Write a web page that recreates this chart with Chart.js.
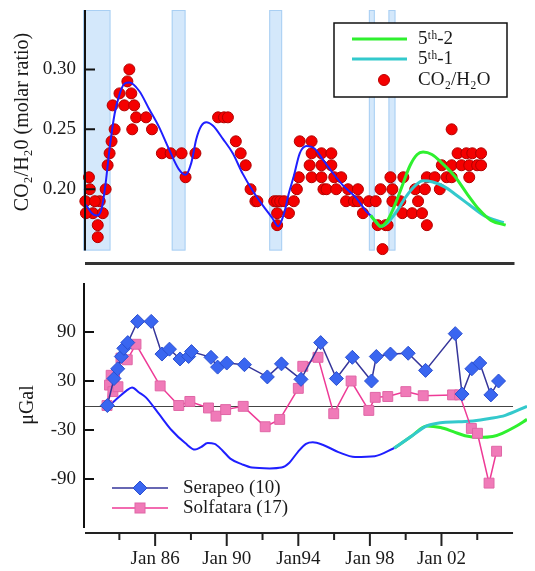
<!DOCTYPE html>
<html lang="en">
<head>
<meta charset="UTF-8">
<title>CO2/H2O ratio and gravity changes</title>
<script src="https://cdn.jsdelivr.net/npm/chart.js@4.4.1/dist/chart.umd.min.js"></script>
<style>
  body { margin: 0; background: #fff; }
  .wrap { position: relative; width: 535px; height: 571px; }
  #topChart { position: absolute; left: 0; top: 0; width: 535px; height: 270px; }
  #bottomChart { position: absolute; left: 0; top: 270px; width: 535px; height: 301px; }
</style>
</head>
<body>
<div class="wrap">
  <canvas id="topChart" width="535" height="270"></canvas>
  <canvas id="bottomChart" width="535" height="301"></canvas>
</div>
<script>
// ---- data (decimal years) ----
const bandStarts = [1981.97, 1986.91, 1992.34, 1997.89, 1998.98];
const bandEnds   = [1983.50, 1987.68, 1993.06, 1998.22, 1999.37];

const co2Dates = [
  1982.30, 1982.35, 1982.10, 1982.90, 1982.52, 1983.07, 1982.13, 1982.79, 1982.79, 1982.63,
  1983.23, 1983.34, 1983.45, 1983.56, 1983.73, 1983.62, 1984.00, 1984.27, 1984.55, 1984.44,
  1984.66, 1984.71, 1984.82, 1984.93, 1985.48, 1985.81, 1986.36, 1986.85, 1987.46, 1988.23, 1987.68,
  1989.49, 1989.82, 1990.04, 1990.48, 1990.75, 1991.03, 1991.30, 1991.57, 1991.68,
  1992.62, 1992.78, 1992.95, 1992.78, 1993.44, 1992.78, 1993.17, 1993.71, 1993.88, 1993.99,
  1994.04, 1994.70, 1994.70, 1995.25, 1994.59, 1995.25, 1994.70, 1995.25, 1995.36, 1995.80,
  1995.80, 1995.96, 1996.35, 1995.53, 1996.07, 1996.73, 1997.28, 1996.62, 1997.06, 1997.28,
  1997.56, 1997.89,
  1998.38, 1998.82, 1998.93, 1998.65, 1998.54, 1998.27, 1999.09, 1999.20, 1999.20, 1999.81,
  1999.64, 1999.75, 2000.30, 2000.63, 2000.85, 2000.47, 2001.01, 2001.12, 2001.56, 2001.12,
  2001.84, 2002.22, 2001.95, 2002.50, 2002.50, 2002.83, 2003.32, 2003.65, 2004.14, 2003.05,
  2003.48, 2003.92, 2004.14, 2002.50, 2003.48
];
const co2Ratio = [
  0.21, 0.20, 0.19, 0.19, 0.18, 0.18, 0.18, 0.17, 0.16, 0.19,
  0.20, 0.22, 0.23, 0.24, 0.25, 0.27, 0.28, 0.27, 0.30, 0.29,
  0.28, 0.25, 0.27, 0.26, 0.26, 0.25, 0.23, 0.23, 0.23, 0.23, 0.21,
  0.26, 0.26, 0.26, 0.24, 0.23, 0.22, 0.20, 0.19, 0.19,
  0.19, 0.19, 0.19, 0.18, 0.18, 0.17, 0.19, 0.19, 0.20, 0.21,
  0.24, 0.24, 0.23, 0.23, 0.22, 0.22, 0.21, 0.21, 0.20, 0.23,
  0.22, 0.21, 0.21, 0.20, 0.20, 0.20, 0.20, 0.19, 0.19, 0.19,
  0.18, 0.19,
  0.17, 0.17, 0.17, 0.15, 0.20, 0.19, 0.21, 0.20, 0.19, 0.21,
  0.19, 0.18, 0.18, 0.19, 0.18, 0.20, 0.20, 0.21, 0.21, 0.17,
  0.20, 0.21, 0.22, 0.22, 0.25, 0.23, 0.23, 0.23, 0.23, 0.22,
  0.22, 0.22, 0.22, 0.21, 0.21
];

// fitted ratio curve (blue) and the two predictions
const fitDates = [
  1982.13, 1982.46, 1982.74, 1983.01, 1983.23, 1983.45, 1983.73, 1984.00, 1984.27, 1984.55,
  1985.10, 1985.65, 1986.20, 1986.74, 1987.29, 1987.68, 1988.00, 1988.28, 1988.56, 1988.83,
  1989.21, 1989.76, 1990.31, 1990.86, 1991.41, 1991.96, 1992.51, 1992.84, 1993.17, 1993.44,
  1993.71, 1994.04, 1994.42, 1994.86, 1995.36, 1995.91, 1996.46, 1997.17, 1997.72, 1997.99
];
const fitRatio = [
  0.187, 0.180, 0.178, 0.184, 0.205, 0.234, 0.263, 0.279, 0.288, 0.289,
  0.282, 0.267, 0.252, 0.234, 0.217, 0.212, 0.222, 0.242, 0.253, 0.256,
  0.253, 0.242, 0.230, 0.213, 0.199, 0.187, 0.176, 0.169, 0.180, 0.197,
  0.211, 0.230, 0.236, 0.234, 0.224, 0.213, 0.203, 0.193, 0.182, 0.178
];
const fifth2Dates = [1997.99, 1998.27, 1998.54, 1998.93, 1999.37, 1999.75, 2000.19, 2000.58, 2000.91, 2001.40, 2001.95, 2002.66, 2003.32, 2004.03, 2004.69, 2005.51];
const fifth2Ratio = [0.178, 0.173, 0.169, 0.174, 0.188, 0.203, 0.220, 0.229, 0.231, 0.229, 0.222, 0.211, 0.197, 0.183, 0.174, 0.170];
const fifth1Dates = [1997.99, 1998.27, 1998.54, 1998.93, 1999.37, 1999.92, 2000.47, 2000.91, 2001.45, 2002.11, 2002.77, 2003.48, 2004.31, 2005.40];
const fifth1Ratio = [0.178, 0.173, 0.169, 0.172, 0.180, 0.193, 0.203, 0.207, 0.206, 0.202, 0.195, 0.187, 0.178, 0.172];

// gravity (microGal)
const serapeoDates = [
  1983.33, 1983.70, 1983.91, 1984.11, 1984.25, 1984.47, 1985.02, 1985.78, 1986.38, 1986.80,
  1987.39, 1987.87, 1988.03, 1989.12, 1989.49, 1990.00, 1990.99, 1992.27, 1993.06, 1994.15,
  1995.25, 1996.13, 1997.02, 1998.09, 1998.36, 1999.15, 2000.14, 2001.11, 2002.77, 2003.15,
  2003.70, 2004.14, 2004.76, 2005.19
];
const serapeoGal = [
  0, 33, 45, 60, 70, 77, 103, 103, 63, 69,
  57, 60, 66, 59, 47, 52, 50, 35, 51, 32,
  77, 33, 59, 30, 60, 63, 64, 43, 88, 14,
  45, 52, 13, 30
];
const solfataraDates = [
  1983.31, 1983.45, 1983.54, 1983.64, 1983.92, 1984.09, 1984.44, 1984.93, 1986.28, 1987.32,
  1987.94, 1988.98, 1989.40, 1989.94, 1990.92, 1992.15, 1992.96, 1994.00, 1994.25, 1995.10,
  1995.98, 1996.95, 1997.94, 1998.30, 1999.00, 2000.01, 2000.98, 2002.62, 2003.02, 2003.67,
  2004.01, 2004.66, 2005.08
];
const solfataraGal = [
  0, 25, 37, 17, 23, 58, 56, 75, 24, 0,
  5, -3, -13, -5, -1, -26, -17, 21, 48, 59,
  -10, 30, -6, 10, 11, 17, 12, 13, 13, -28,
  -34, -95, -56
];
const modelDates = [
  1983.45, 1984.00, 1984.38, 1984.71, 1985.10, 1985.48, 1986.20, 1986.91, 1987.68, 1988.23,
  1988.56, 1988.94, 1989.32, 1989.76, 1990.20, 1990.86, 1991.41, 1992.40, 1993.06, 1993.50,
  1993.97, 1994.43, 1994.81, 1995.36, 1996.24, 1997.17, 1998.27, 1999.37
];
const modelGal = [
  0, 11, 18, 22, 16, 10, -10, -30, -46, -54,
  -51, -46, -47, -55, -65, -72, -76, -77, -76, -70,
  -57, -47, -45, -48, -57, -63, -62, -52
];
const fifth1GalDates = [1999.37, 2000.30, 2001.18, 2001.95, 2002.94, 2003.76, 2004.69, 2005.57, 2006.78];
const fifth1Gal = [-52, -38, -25, -21, -20, -19, -16, -12, -1];
const fifth2GalDates = [1999.37, 2000.30, 2001.18, 2001.95, 2002.66, 2003.32, 2004.14, 2004.86, 2005.40, 2006.12, 2006.78];
const fifth2Gal = [-52, -38, -25, -27, -32, -37, -39, -38, -34, -26, -17];

// axes
const tickYears  = [1984, 1986, 1988, 1990, 1992, 1994, 1996, 1998, 2000, 2002, 2004];
const labelYears = [1986, 1990, 1994, 1998, 2002];
const labelTexts = ['Jan 86', 'Jan 90', 'Jan94', 'Jan 98', 'Jan 02'];
const ratioTicks = [0.20, 0.25, 0.30];
const galTicks   = [-90, -30, 30, 90];

const X_MIN = 1982.08, X_MAX = 2006.78, X_AXIS_END = 2006.0;
const FONT = '"Liberation Serif", "Times New Roman", serif';

Chart.defaults.font.family = FONT;
Chart.defaults.color = '#1a1a1a';

const xy = (xs, ys) => xs.map((x, i) => ({ x: x, y: ys[i] }));

// keep the plot area where the axes really are (no extra room for end labels)
function noScalePadding(s) {
  s.paddingTop = 0; s.paddingBottom = 0; s.paddingLeft = 0; s.paddingRight = 0;
}

function drawRotatedText(ctx, text, x, y, size) {
  ctx.save();
  ctx.translate(x, y);
  ctx.rotate(-Math.PI / 2);
  ctx.font = size + 'px ' + FONT;
  ctx.fillStyle = '#1a1a1a';
  ctx.textAlign = 'center';
  ctx.textBaseline = 'middle';
  ctx.fillText(text, 0, 0);
  ctx.restore();
}

// ---- top panel ----
const topDecor = {
  id: 'topDecor',
  beforeDatasetsDraw(chart) {
    const { ctx, scales: { x, y } } = chart;
    const yTop = y.getPixelForValue(0.3496), yBot = y.getPixelForValue(0.1488);
    ctx.save();
    ctx.fillStyle = '#d4e8fb';
    ctx.strokeStyle = '#a9cff3';
    ctx.lineWidth = 1;
    bandStarts.forEach((s, i) => {
      const x0 = x.getPixelForValue(s), x1 = x.getPixelForValue(bandEnds[i]);
      ctx.fillRect(x0, yTop, x1 - x0, yBot - yTop);
      ctx.strokeRect(x0 + 0.5, yTop + 0.5, x1 - x0 - 1, yBot - yTop - 1);
    });
    ctx.restore();
  },
  afterDraw(chart) {
    const { ctx, chartArea, scales: { x, y } } = chart;
    ctx.save();
    // y axis line + inward ticks
    ctx.strokeStyle = '#111';
    ctx.lineWidth = 2;
    ctx.beginPath();
    ctx.moveTo(chartArea.left, y.getPixelForValue(0.3496));
    ctx.lineTo(chartArea.left, y.getPixelForValue(0.1488));
    ratioTicks.forEach(v => {
      const py = y.getPixelForValue(v);
      ctx.moveTo(chartArea.left, py);
      ctx.lineTo(chartArea.left + 10, py);
    });
    ctx.stroke();
    // x axis line (no ticks)
    ctx.strokeStyle = '#333';
    ctx.lineWidth = 3;
    ctx.beginPath();
    ctx.moveTo(x.getPixelForValue(X_MIN), chartArea.bottom);
    ctx.lineTo(x.getPixelForValue(X_AXIS_END), chartArea.bottom);
    ctx.stroke();

    // legend box
    ctx.strokeStyle = '#111';
    ctx.lineWidth = 1.5;
    ctx.fillStyle = '#fff';
    ctx.fillRect(334, 23, 173, 74);
    ctx.strokeRect(334, 23, 173, 74);
    ctx.lineWidth = 3;
    ctx.strokeStyle = '#2ff02f';
    ctx.beginPath(); ctx.moveTo(352, 39); ctx.lineTo(407, 39); ctx.stroke();
    ctx.strokeStyle = '#33c9cc';
    ctx.beginPath(); ctx.moveTo(352, 59); ctx.lineTo(407, 59); ctx.stroke();
    ctx.fillStyle = '#f50000';
    ctx.strokeStyle = '#b00';
    ctx.lineWidth = 1;
    ctx.beginPath(); ctx.arc(384, 80, 5.5, 0, Math.PI * 2); ctx.fill(); ctx.stroke();
    ctx.fillStyle = '#1a1a1a';
    ctx.font = '19px ' + FONT;
    ctx.textAlign = 'left';
    ctx.textBaseline = 'middle';
    ctx.fillText('5ᵗʰ-2', 418, 39);
    ctx.fillText('5ᵗʰ-1', 418, 59);
    ctx.fillText('CO₂/H₂O', 418, 80);
    ctx.restore();

    drawRotatedText(ctx, 'CO₂/H₂0 (molar ratio)', 23, 122, 20);
  }
};

new Chart(document.getElementById('topChart'), {
  type: 'line',
  data: {
    datasets: [
      {
        label: '5ᵗʰ-2', data: xy(fifth2Dates, fifth2Ratio), borderColor: '#2ff02f', borderWidth: 3,
        pointRadius: 0, cubicInterpolationMode: 'monotone', order: 0
      },
      {
        label: '5ᵗʰ-1', data: xy(fifth1Dates, fifth1Ratio), borderColor: '#33c9cc', borderWidth: 3,
        pointRadius: 0, cubicInterpolationMode: 'monotone', order: 1
      },
      {
        label: 'fit', data: xy(fitDates, fitRatio), borderColor: '#1f1fff', borderWidth: 2,
        pointRadius: 0, cubicInterpolationMode: 'monotone', order: 2
      },
      {
        label: 'CO₂/H₂O', data: xy(co2Dates, co2Ratio), showLine: false,
        pointRadius: 5.5, pointBackgroundColor: '#f50000', pointBorderColor: '#b00000', pointBorderWidth: 1,
        clip: false, order: 3
      }
    ]
  },
  options: {
    responsive: false,
    animation: false,
    layout: { padding: { left: 0, right: 0, top: 10, bottom: 4 } },
    plugins: { legend: { display: false }, tooltip: { enabled: false } },
    scales: {
      x: { type: 'linear', display: false, min: X_MIN, max: X_MAX, afterFit: noScalePadding },
      y: {
        min: 0.138, max: 0.3496,
        afterFit: s => { s.width = 85; noScalePadding(s); },
        afterBuildTicks: s => { s.ticks = ratioTicks.map(v => ({ value: v })); },
        ticks: { callback: v => v.toFixed(2), font: { size: 19 }, padding: 9 },
        grid: { display: false, drawTicks: false },
        border: { display: false }
      }
    }
  },
  plugins: [topDecor]
});

// ---- bottom panel ----
const bottomDecor = {
  id: 'bottomDecor',
  beforeDatasetsDraw(chart) {
    const { ctx, chartArea, scales: { x, y } } = chart;
    const y0 = Math.round(y.getPixelForValue(0)) + 0.5;
    ctx.save();
    ctx.strokeStyle = '#444';
    ctx.lineWidth = 1;
    ctx.beginPath();
    ctx.moveTo(chartArea.left, y0);
    ctx.lineTo(x.getPixelForValue(X_AXIS_END), y0);
    ctx.stroke();
    ctx.restore();
  },
  afterDraw(chart) {
    const { ctx, chartArea, scales: { x, y } } = chart;
    ctx.save();
    ctx.strokeStyle = '#111';
    ctx.lineWidth = 2;
    ctx.beginPath();
    ctx.moveTo(chartArea.left - 1, y.getPixelForValue(150));
    ctx.lineTo(chartArea.left - 1, y.getPixelForValue(-150));
    galTicks.forEach(v => {
      const py = y.getPixelForValue(v);
      ctx.moveTo(chartArea.left, py);
      ctx.lineTo(chartArea.left + 9, py);
    });
    ctx.stroke();

    ctx.strokeStyle = '#222';
    ctx.lineWidth = 2;
    ctx.beginPath();
    ctx.moveTo(x.getPixelForValue(X_MIN), chartArea.bottom);
    ctx.lineTo(x.getPixelForValue(X_AXIS_END), chartArea.bottom);
    tickYears.forEach(t => {
      const px = x.getPixelForValue(t);
      ctx.moveTo(px, chartArea.bottom);
      ctx.lineTo(px, chartArea.bottom + (labelYears.includes(t) ? 13 : 7));
    });
    ctx.stroke();

    // legend
    ctx.lineWidth = 1.5;
    ctx.strokeStyle = '#35359a';
    ctx.beginPath(); ctx.moveTo(112, 218); ctx.lineTo(168, 218); ctx.stroke();
    ctx.fillStyle = '#3a66f0';
    ctx.strokeStyle = '#2a4fd0';
    ctx.lineWidth = 1;
    ctx.beginPath();
    ctx.moveTo(140, 211); ctx.lineTo(147, 218); ctx.lineTo(140, 225); ctx.lineTo(133, 218); ctx.closePath();
    ctx.fill(); ctx.stroke();
    ctx.lineWidth = 1.5;
    ctx.strokeStyle = '#ee3a96';
    ctx.beginPath(); ctx.moveTo(112, 238); ctx.lineTo(168, 238); ctx.stroke();
    ctx.fillStyle = '#f07ab8';
    ctx.strokeStyle = '#e066a6';
    ctx.lineWidth = 1;
    ctx.fillRect(135, 233, 10, 10);
    ctx.strokeRect(135, 233, 10, 10);
    ctx.fillStyle = '#1a1a1a';
    ctx.font = '19px ' + FONT;
    ctx.textAlign = 'left';
    ctx.textBaseline = 'middle';
    ctx.fillText('Serapeo (10)', 183, 218);
    ctx.fillText('Solfatara (17)', 183, 238);
    ctx.restore();

    drawRotatedText(ctx, 'μGal', 28, 135, 20);
  }
};

new Chart(document.getElementById('bottomChart'), {
  type: 'line',
  data: {
    datasets: [
      {
        label: 'Serapeo (10)', data: xy(serapeoDates, serapeoGal), borderColor: '#35359a', borderWidth: 1.5,
        pointStyle: 'rectRot', pointRadius: 7, pointBackgroundColor: '#3a66f0', pointBorderColor: '#2a4fd0',
        pointBorderWidth: 1, order: 0
      },
      {
        label: 'Solfatara (17)', data: xy(solfataraDates, solfataraGal), borderColor: '#ee3a96', borderWidth: 1.5,
        pointStyle: 'rect', pointRadius: 7, pointBackgroundColor: '#f07ab8', pointBorderColor: '#e066a6',
        pointBorderWidth: 1, order: 1
      },
      {
        label: 'model', data: xy(modelDates, modelGal), borderColor: '#1f1fff', borderWidth: 2,
        pointRadius: 0, cubicInterpolationMode: 'monotone', order: 4
      },
      {
        label: '5ᵗʰ-1', data: xy(fifth1GalDates, fifth1Gal), borderColor: '#33c9cc', borderWidth: 3,
        pointRadius: 0, cubicInterpolationMode: 'monotone', order: 2
      },
      {
        label: '5ᵗʰ-2', data: xy(fifth2GalDates, fifth2Gal), borderColor: '#2ff02f', borderWidth: 3,
        pointRadius: 0, cubicInterpolationMode: 'monotone', order: 3
      }
    ]
  },
  options: {
    responsive: false,
    animation: false,
    layout: { padding: { left: 0, right: 0, top: 13, bottom: 0 } },
    plugins: { legend: { display: false }, tooltip: { enabled: false } },
    scales: {
      x: {
        type: 'linear', min: X_MIN, max: X_MAX,
        afterFit: s => { s.height = 38; noScalePadding(s); },
        afterBuildTicks: s => { s.ticks = tickYears.map(v => ({ value: v })); },
        ticks: {
          autoSkip: false, maxRotation: 0, padding: 15, font: { size: 19 },
          callback: v => { const i = labelYears.indexOf(v); return i < 0 ? '' : labelTexts[i]; }
        },
        grid: { display: false, drawTicks: false },
        border: { display: false }
      },
      y: {
        min: -156.1, max: 150,
        afterFit: s => { s.width = 85; noScalePadding(s); },
        afterBuildTicks: s => { s.ticks = galTicks.map(v => ({ value: v })); },
        ticks: { font: { size: 19 }, padding: 9 },
        grid: { display: false, drawTicks: false },
        border: { display: false }
      }
    }
  },
  plugins: [bottomDecor]
});
</script>
</body>
</html>
